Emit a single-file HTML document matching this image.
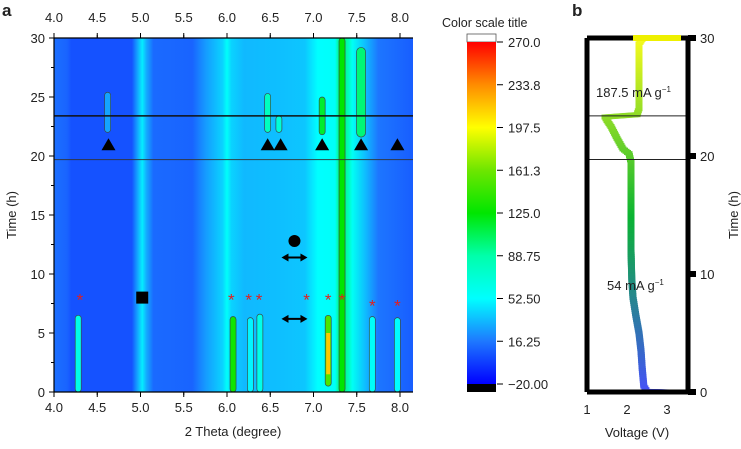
<!DOCTYPE html>
<html><head><meta charset="utf-8"><style>
body{margin:0;background:#fff;}
svg text{font-family:"Liberation Sans",sans-serif;fill:#222;}
</style></head><body>
<svg id="fig" width="741" height="444" viewBox="0 0 741 444">
<defs><linearGradient id="bg" x1="0" x2="1" y1="0" y2="0"></linearGradient>
<linearGradient id="cb" x1="0" x2="0" y1="1" y2="0"></linearGradient>
<clipPath id="clipA"><rect x="54" y="38" width="359" height="354"/></clipPath></defs>
<g id="panelA"></g>
<g id="panelC"></g>
<g id="panelB"></g>
</svg>
<script>
// ---------- data ----------
const bgTheta = [4.0,4.15,4.2,4.9,4.97,5.02,5.07,5.15,5.6,5.75,5.95,6.0,6.05,6.2,6.6,6.9,7.05,7.25,7.29,7.33,7.37,7.45,7.6,7.75,8.3];
const bgValue = [12,8,2,2,30,50,30,10,8,25,42,58,42,34,36,38,55,58,100,115,100,60,35,14,6];
const peakTheta = [4.62,6.47,6.6,7.1,7.55,4.28,6.07,6.27,6.38,7.17,7.68,7.97,7.33];
const peakT0 = [22,22,22,21.8,21.6,0,0,0,0,0.5,0,0,0];
const peakT1 = [25.4,25.3,23.4,25,29.2,6.5,6.4,6.3,6.6,6.5,6.4,6.3,30];
const peakValue = [28,80,70,115,100,62,130,50,62,150,55,52,125];
const triTheta = [4.63,6.47,6.62,7.1,7.55,7.97];
const starTheta = [4.3,6.05,6.25,6.37,6.92,7.17,7.33,7.68,7.97];
const starT = [8,8,8,8,8,8,8,7.5,7.5];
const xTicks = [4.0,4.5,5.0,5.5,6.0,6.5,7.0,7.5,8.0];
const yTicks = [0,5,10,15,20,25,30];
const cbTicks = ["270.0","233.8","197.5","161.3","125.0","88.75","52.50","16.25","\u221220.00"];
const voltV = [3.0,2.5,2.42,2.38,2.35,2.3,2.22,2.15,2.12,2.1,2.1,2.05,1.9,1.75,1.6,1.5,1.45,2.25,2.3,2.3,2.4,2.9];
const voltT = [0,0.05,0.5,2,3.5,5,6.5,8,9.5,12,19.5,20.2,20.6,21.5,22.5,23,23.3,23.5,24,29.5,30,30];
const bTicksX = [1,2,3];
const bTicksY = [0,10,20,30];

const NS="http://www.w3.org/2000/svg";
function el(tag,attrs,parent,txt){const e=document.createElementNS(NS,tag);for(const k in attrs)e.setAttribute(k,attrs[k]);if(txt!==undefined)e.textContent=txt;parent.appendChild(e);return e;}
const cmStops=[[-20,[0,0,255]],[16.25,[30,120,255]],[52.5,[0,255,255]],[88.75,[0,255,170]],[125,[0,230,0]],[161.3,[110,230,0]],[197.5,[255,255,0]],[233.8,[255,140,0]],[270,[255,0,0]]];
function cmap(v){v=Math.max(-20,Math.min(270,v));for(let i=1;i<cmStops.length;i++){if(v<=cmStops[i][0]){const a=cmStops[i-1],b=cmStops[i];const f=(v-a[0])/(b[0]-a[0]);const c=a[1].map((x,j)=>Math.round(x+(b[1][j]-x)*f));return `rgb(${c[0]},${c[1]},${c[2]})`;}}return "rgb(255,0,0)";}
function cmapBg(v){return cmap(v*0.9+3);}
const X=t=>54+(t-4)*86.5, Y=h=>392-h*11.8;

// ---------- panel A ----------
const A=document.getElementById('panelA');
const bg=document.getElementById('bg');
bgTheta.forEach((t,i)=>{el('stop',{offset:((X(t)-54)/359).toFixed(4),'stop-color':cmapBg(bgValue[i])},bg);});
const clipG=el('g',{'clip-path':'url(#clipA)'},A);
let r=el('rect',{x:54,y:38,width:359,height:354,fill:'url(#bg)'},clipG);


peakTheta.forEach((t,i)=>{
  const w=i==12?6:(i==4?9:6);
  const y1=Y(peakT1[i]),y0=Y(peakT0[i]);
  const p=el('rect',{x:X(t)-w/2,y:y1,width:w,height:y0-y1,rx:w/2,fill:cmap(peakValue[i]),stroke:'#3a4a4a','stroke-width':0.7},clipG);
  
  
});
let core=el('rect',{x:X(7.17)-2,y:Y(5),width:4,height:Y(1.5)-Y(5),fill:cmap(215)},clipG);


let l1=el('line',{x1:54,x2:413,y1:Y(23.4),y2:Y(23.4),stroke:'#111','stroke-width':1.5},A);


let l2=el('line',{x1:54,x2:413,y1:Y(19.7),y2:Y(19.7),stroke:'#333','stroke-width':1.2,opacity:0.8},A);


triTheta.forEach(t=>{const x=X(t),y=Y(21.0);const m=el('polygon',{points:`${x-7},${y+6} ${x+7},${y+6} ${x},${y-6}`,fill:'#000'},A);

});
starTheta.forEach((t,i)=>{const m=el('text',{x:X(t),y:Y(starT[i])+8,'text-anchor':'middle','font-size':17,style:'fill:#e02020'},A,'*');

});
let sq=el('rect',{x:X(5.02)-6,y:Y(8)-6,width:12,height:12,fill:'#000'},A);


let ci=el('circle',{cx:X(6.78),cy:Y(12.8),r:6,fill:'#000'},A);


[11.4,6.2].forEach(h=>{const g=el('g',{},A);


const x=X(6.78),y=Y(h);el('line',{x1:x-9,x2:x+9,y1:y,y2:y,stroke:'#000','stroke-width':2},g);
el('polygon',{points:`${x-13},${y} ${x-6},${y-4} ${x-6},${y+4}`,fill:'#000'},g);
el('polygon',{points:`${x+13},${y} ${x+6},${y-4} ${x+6},${y+4}`,fill:'#000'},g);});
el('line',{x1:54,x2:413,y1:392,y2:392,stroke:'#000','stroke-width':1.2},A);
el('line',{x1:54,x2:413,y1:38,y2:38,stroke:'#000','stroke-width':1.2},A);
el('line',{x1:54,x2:54,y1:38,y2:392,stroke:'#000','stroke-width':1.2},A);
xTicks.forEach((t,i)=>{const x=X(t);el('line',{x1:x,x2:x,y1:392,y2:397,stroke:'#000'},A);el('line',{x1:x,x2:x,y1:38,y2:33,stroke:'#000'},A);
if(i<xTicks.length-1){el('line',{x1:x+43.25,x2:x+43.25,y1:392,y2:395,stroke:'#000'},A);el('line',{x1:x+43.25,x2:x+43.25,y1:38,y2:35,stroke:'#000'},A);}
let b=el('text',{x:x,y:412,'text-anchor':'middle','font-size':13},A,t.toFixed(1));


let tp=el('text',{x:x,y:22,'text-anchor':'middle','font-size':13},A,t.toFixed(1));

});
yTicks.forEach(h=>{const y=Y(h);el('line',{x1:54,x2:49,y1:y,y2:y,stroke:'#000'},A);if(h<30)el('line',{x1:54,x2:51,y1:Y(h+2.5),y2:Y(h+2.5),stroke:'#000'},A);
let t=el('text',{x:45,y:y+5,'text-anchor':'end','font-size':13},A,String(h));

});
let xt=el('text',{x:233,y:436,'text-anchor':'middle','font-size':13},A,'2 Theta (degree)');


let yt=el('text',{x:0,y:0,'text-anchor':'middle','font-size':13,transform:'translate(16,215) rotate(-90)'},A,'Time (h)');


let la=el('text',{x:2,y:16,'font-size':17,'font-weight':'bold'},A,'a');



// ---------- colour scale ----------
const C=document.getElementById('panelC');
const cb=document.getElementById('cb');
for(let i=0;i<=16;i++){const v=-20+290*i/16;el('stop',{offset:i/16,'stop-color':cmap(v)},cb);}
el('rect',{x:467,y:34,width:29,height:8,fill:'#fff',stroke:'#555','stroke-width':0.8},C);
let cbr=el('rect',{x:467,y:42,width:29,height:342,fill:'url(#cb)'},C);


el('rect',{x:467,y:384,width:29,height:8,fill:'#000'},C);
cbTicks.forEach((s,i)=>{const y=42+i*(342/8);el('line',{x1:497,x2:503,y1:y,y2:y,stroke:'#000'},C);
let t=el('text',{x:508,y:y+5,'font-size':13},C,s);

});
let ct=el('text',{x:442,y:27,'font-size':12.5},C,'Color scale title');



// ---------- panel B ----------
const B=document.getElementById('panelB');
const VX=v=>587+(v-1)*40, VY=h=>392-h*11.8;
for(let i=1;i<voltV.length;i++){const n=Math.max(2,Math.round(Math.hypot(VX(voltV[i])-VX(voltV[i-1]),VY(voltT[i])-VY(voltT[i-1]))/2));
for(let k=0;k<n;k++){const f=k/n;const v=voltV[i-1]+(voltV[i]-voltV[i-1])*f,h=voltT[i-1]+(voltT[i]-voltT[i-1])*f;
const col=h<15?`rgb(${Math.round(70-60*h/15)},${Math.round(80+100*h/15)},${Math.round(250-200*h/15)})`:`rgb(${Math.round(10+235*(h-15)/15)},${Math.round(180+70*(h-15)/15)},${Math.round(50-20*(h-15)/15)})`;
const m=el('rect',{x:VX(v)-3.5,y:VY(h)-2.5,width:7,height:5,fill:col},B);

}}
el('line',{x1:587,x2:688,y1:VY(23.4),y2:VY(23.4),stroke:'#222','stroke-width':1},B);
el('line',{x1:587,x2:688,y1:VY(19.7),y2:VY(19.7),stroke:'#222','stroke-width':1},B);
let fr=el('path',{d:'M587,38 V392 M688,38 V392 M587,392 H688 M587,38 H633 M681,38 H688',fill:'none',stroke:'#000','stroke-width':5},B);


let topSeg=el('rect',{x:633,y:35,width:48,height:6,fill:'#eef000'},B);


bTicksX.forEach(v=>{let t=el('text',{x:VX(v),y:414,'text-anchor':'middle','font-size':13},B,String(v));

});
bTicksY.forEach(h=>{el('rect',{x:688,y:VY(h)-3,width:8,height:6,fill:'#000'},B);
let t=el('text',{x:700,y:VY(h)+5,'font-size':13},B,String(h));

});
let vt=el('text',{x:637,y:437,'text-anchor':'middle','font-size':13},B,'Voltage (V)');


let tt=el('text',{x:0,y:0,'text-anchor':'middle','font-size':13,transform:'translate(738,215) rotate(-90)'},B,'Time (h)');


let a1=el('text',{x:596,y:97,'font-size':13},B,'187.5 mA g');


el('tspan',{dy:-5,'font-size':8},a1,'\u22121');
let a2=el('text',{x:607,y:290,'font-size':13},B,'54 mA g');


el('tspan',{dy:-5,'font-size':8},a2,'\u22121');
let lb=el('text',{x:572,y:16,'font-size':17,'font-weight':'bold'},B,'b');


</script>
</body></html>
